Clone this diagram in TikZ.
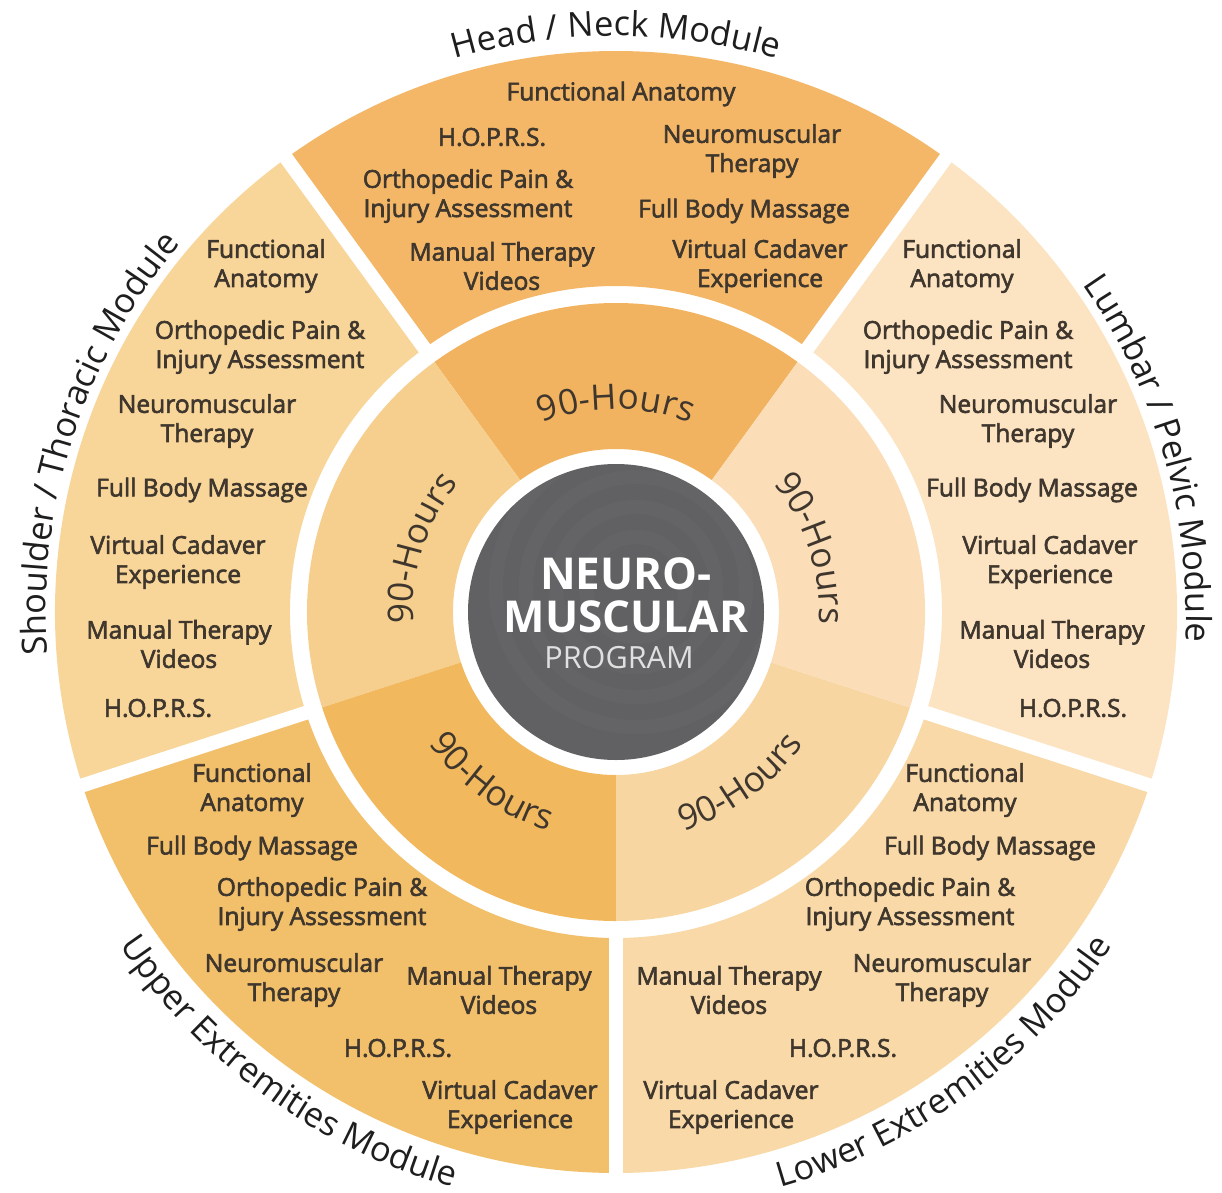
\documentclass[tikz,border=0pt]{standalone}
\usepackage{fontspec}
\setmainfont{Open Sans}
\newfontfamily\itemfont{Open Sans}[FakeBold=2.5]
\usetikzlibrary{decorations.text}

\definecolor{hnOuter}{HTML}{F3B767}
\definecolor{hnInner}{HTML}{F2B360}
\definecolor{stOuter}{HTML}{F8D599}
\definecolor{stInner}{HTML}{F6CF8E}
\definecolor{lpOuter}{HTML}{FCE3C2}
\definecolor{lpInner}{HTML}{FBDDB8}
\definecolor{ueOuter}{HTML}{F2BF6B}
\definecolor{ueInner}{HTML}{F1B85E}
\definecolor{leOuter}{HTML}{F8D9A7}
\definecolor{leInner}{HTML}{F7D6A2}
\definecolor{hub}{HTML}{616163}
\definecolor{itemText}{HTML}{3F372E}
\definecolor{modText}{HTML}{1E1E1E}

\tikzset{
  item/.style={font=\itemfont\fontsize{7}{8.3}\selectfont, text=itemText, align=center, inner sep=0pt},
  hours/.style={decorate, decoration={text along path, text align=center, text color=itemText,
      text={|\fontsize{10}{10}\selectfont|90-Hours}}},
  module/.style={decorate, decoration={text along path, text align=center, text color=modText,
      text={|\fontsize{9.8}{10}\selectfont|#1}}}
}

\newcommand{\sector}[5]{% start, end, r1, r2, colour
  \fill[#5] (#1:#3) arc[start angle=#1, end angle=#2, radius=#3]
    -- (#2:#4) arc[start angle=#2, end angle=#1, radius=#4] -- cycle;}

\begin{document}
\begin{tikzpicture}
    \useasboundingbox (-6.16,-5.80) rectangle (6.06,6.12);

    % outer ring
    \sector{54}{126}{3.26}{5.61}{hnOuter}
    \sector{126}{198}{3.26}{5.61}{stOuter}
    \sector{198}{270}{3.26}{5.61}{ueOuter}
    \sector{270}{342}{3.26}{5.61}{leOuter}
    \sector{-18}{54}{3.26}{5.61}{lpOuter}
    \foreach \a in {54,126,198,270,342}
        \draw[white, line width=0.14cm] (\a:3.15) -- (\a:5.7);

    % inner ring
    \sector{54}{126}{1.63}{3.09}{hnInner}
    \sector{126}{198}{1.63}{3.09}{stInner}
    \sector{198}{270}{1.63}{3.09}{ueInner}
    \sector{270}{342}{1.63}{3.09}{leInner}
    \sector{-18}{54}{1.63}{3.09}{lpInner}

    % hub
    \fill[hub] (0,0) circle (1.48);
    \begin{scope}
        \clip (0,0) circle (1.48);
        \foreach \r in {0.5,0.8,1.1,1.4}
            \draw[white, opacity=0.025, line width=4pt] (0.2,0.25) circle (\r);
    \end{scope}
    \node[font=\bfseries\fontsize{12.5}{13}\selectfont, text=white] (neuro) at (0.1,0.38) {NEURO-};
    \node[font=\bfseries\fontsize{12.5}{13}\selectfont, text=white] (muscular) at (0.1,-0.05) {MUSCULAR};
    \node[font=\fontsize{8.7}{9}\selectfont, text=white!88!black] (program) at (0.03,-0.46) {PROGRAM};

    % 90-Hours
    \path[hours] (126:2.03) arc[start angle=126, end angle=54, radius=2.03];
    \path[hours] (198:2.03) arc[start angle=198, end angle=126, radius=2.03];
    \path[hours] (54:2.03) arc[start angle=54, end angle=-18, radius=2.03];
    \path[hours] (198:2.29) arc[start angle=198, end angle=270, radius=2.29];
    \path[hours] (270:2.29) arc[start angle=270, end angle=342, radius=2.29];

    % module names
    \path[module={Head / Neck Module}] (126:5.76) arc[start angle=126, end angle=54, radius=5.76];
    \path[module={Shoulder / Thoracic Module}] (198:5.70) arc[start angle=198, end angle=126, radius=5.70];
    \path[module={Lumbar / Pelvic Module}] (52:5.70) arc[start angle=52, end angle=-20, radius=5.70];
    \path[module={Upper Extremities Module}] (198:5.98) arc[start angle=198, end angle=270, radius=5.98];
    \path[module={Lower Extremities Module}] (270:5.98) arc[start angle=270, end angle=342, radius=5.98];

    % Head / Neck
    \node[item] (hnFA) at (0.05,5.18) {Functional Anatomy};
    \node[item] (hnHO) at (-1.24,4.75) {H.O.P.R.S.};
    \node[item] (hnNM) at (1.36,4.61) {Neuromuscular\\Therapy};
    \node[item] (hnOP) at (-1.48,4.16) {Orthopedic Pain \&\\Injury Assessment};
    \node[item] (hnFB) at (1.28,4.01) {Full Body Massage};
    \node[item] (hnMT) at (-1.14,3.46) {Manual Therapy\\Videos};
    \node[item] (hnVC) at (1.44,3.46) {Virtual Cadaver\\Experience};

    % Shoulder / Thoracic
    \node[item] (stFA) at (-3.50,3.46) {Functional\\Anatomy};
    \node[item] (stOP) at (-3.56,2.65) {Orthopedic Pain \&\\Injury Assessment};
    \node[item] (stNM) at (-4.09,1.91) {Neuromuscular\\Therapy};
    \node[item] (stFB) at (-4.14,1.22) {Full Body Massage};
    \node[item] (stVC) at (-4.38,0.50) {Virtual Cadaver\\Experience};
    \node[item] (stMT) at (-4.37,-0.32) {Manual Therapy\\Videos};
    \node[item] (stHO) at (-4.58,-0.96) {H.O.P.R.S.};

    % Lumbar / Pelvic
    \node[item] (lpFA) at (3.46,3.46) {Functional\\Anatomy};
    \node[item] (lpOP) at (3.52,2.65) {Orthopedic Pain \&\\Injury Assessment};
    \node[item] (lpNM) at (4.12,1.91) {Neuromuscular\\Therapy};
    \node[item] (lpFB) at (4.16,1.22) {Full Body Massage};
    \node[item] (lpVC) at (4.34,0.50) {Virtual Cadaver\\Experience};
    \node[item] (lpMT) at (4.36,-0.32) {Manual Therapy\\Videos};
    \node[item] (lpHO) at (4.57,-0.96) {H.O.P.R.S.};

    % Upper Extremities
    \node[item] (ueFA) at (-3.64,-1.78) {Functional\\Anatomy};
    \node[item] (ueFB) at (-3.64,-2.36) {Full Body Massage};
    \node[item] (ueOP) at (-2.94,-2.92) {Orthopedic Pain \&\\Injury Assessment};
    \node[item] (ueNM) at (-3.22,-3.68) {Neuromuscular\\Therapy};
    \node[item] (ueMT) at (-1.17,-3.78) {Manual Therapy\\Videos};
    \node[item] (ueHO) at (-2.18,-4.36) {H.O.P.R.S.};
    \node[item] (ueVC) at (-1.06,-4.95) {Virtual Cadaver\\Experience};

    % Lower Extremities
    \node[item] (leFA) at (3.49,-1.78) {Functional\\Anatomy};
    \node[item] (leFB) at (3.74,-2.36) {Full Body Massage};
    \node[item] (leOP) at (2.94,-2.92) {Orthopedic Pain \&\\Injury Assessment};
    \node[item] (leNM) at (3.26,-3.68) {Neuromuscular\\Therapy};
    \node[item] (leMT) at (1.13,-3.78) {Manual Therapy\\Videos};
    \node[item] (leHO) at (2.27,-4.36) {H.O.P.R.S.};
    \node[item] (leVC) at (1.15,-4.95) {Virtual Cadaver\\Experience};
\end{tikzpicture}
\end{document}
